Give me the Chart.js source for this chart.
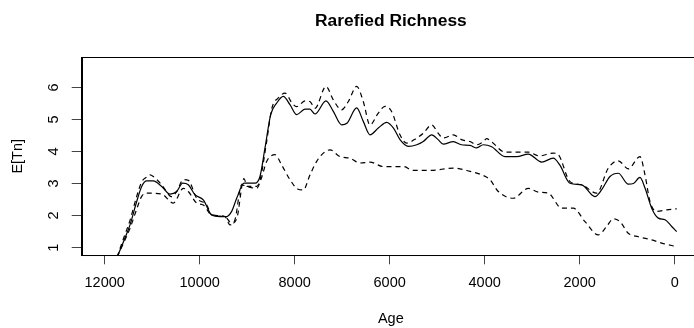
<!DOCTYPE html>
<html>
<head>
<meta charset="utf-8">
<script src="https://cdn.jsdelivr.net/npm/chart.js@4/dist/chart.umd.min.js"></script>
<style>
  html, body { margin: 0; padding: 0; background: #fff; overflow: hidden; }
  #wrap { width: 694px; height: 328px; overflow: hidden; }
</style>
</head>
<body>
<div id="wrap"><canvas id="rich" width="700" height="328"></canvas></div>
<script>
// ages (yr BP) and rarefied richness, oldest first
const meanAge = [11740, 11600, 11467, 11326, 11221, 11116, 10977, 10800, 10625, 10484, 10358, 10240, 10099, 9924, 9747, 9573, 9432, 9327, 9221, 9067, 8836, 8731, 8625, 8505, 8379, 8240, 8099, 7958, 7783, 7680, 7573, 7341, 7187, 7012, 6900, 6695, 6556, 6415, 6240, 6063, 5920, 5783, 5608, 5430, 5293, 5116, 4980, 4872, 4661, 4490, 4309, 4168, 4030, 3853, 3573, 3326, 3082, 2800, 2556, 2420, 2204, 1958, 1678, 1540, 1362, 1187, 977, 870, 731, 625, 484, 345, 204, 63, -42];
const meanRichness = [0.7, 1.2, 1.71, 2.44, 2.91, 3.08, 3.08, 2.91, 2.67, 2.75, 3.01, 2.96, 2.65, 2.49, 2.02, 1.97, 1.97, 2.13, 2.54, 3.01, 3.01, 3.22, 4.11, 5.15, 5.51, 5.72, 5.46, 5.15, 5.32, 5.32, 5.17, 5.58, 5.25, 4.83, 4.88, 5.36, 4.94, 4.52, 4.73, 4.91, 4.73, 4.37, 4.16, 4.21, 4.31, 4.52, 4.37, 4.23, 4.31, 4.21, 4.19, 4.11, 4.21, 4.15, 3.84, 3.84, 3.92, 3.67, 3.79, 3.58, 3.01, 2.96, 2.59, 2.8, 3.22, 3.32, 2.98, 3.0, 3.19, 2.86, 2.23, 1.92, 1.87, 1.66, 1.5];

const upperAge = [11740, 11600, 11467, 11326, 11221, 11116, 11046, 10977, 10800, 10590, 10484, 10345, 10240, 10063, 9850, 9747, 9470, 9327, 9220, 9067, 9000, 8800, 8720, 8590, 8480, 8345, 8204, 8050, 7958, 7783, 7680, 7573, 7341, 7187, 7012, 6870, 6695, 6556, 6415, 6240, 6099, 5960, 5783, 5643, 5430, 5293, 5116, 4980, 4872, 4661, 4490, 4309, 4168, 4030, 3960, 3853, 3573, 3326, 3082, 2850, 2556, 2450, 2204, 1958, 1642, 1398, 1187, 977, 731, 625, 520, 379, 168, -42];
const upperRichness = [0.7, 1.3, 1.85, 2.6, 3.05, 3.2, 3.27, 3.22, 2.96, 2.59, 2.75, 3.12, 3.1, 2.54, 2.33, 2.02, 1.97, 1.76, 1.9, 3.15, 2.91, 2.91, 3.17, 4.31, 5.35, 5.67, 5.82, 5.5, 5.4, 5.58, 5.56, 5.35, 6.03, 5.61, 5.3, 5.56, 6.03, 5.56, 4.83, 5.2, 5.41, 5.25, 4.52, 4.26, 4.42, 4.57, 4.83, 4.57, 4.42, 4.52, 4.37, 4.31, 4.21, 4.31, 4.4, 4.3, 3.98, 3.98, 3.98, 3.86, 3.95, 3.9, 3.06, 2.96, 2.7, 3.48, 3.71, 3.46, 3.84, 3.27, 2.44, 2.13, 2.18, 2.21];

const lowerAge = [11740, 11600, 11467, 11326, 11221, 11116, 10800, 10555, 10345, 10240, 10063, 9924, 9747, 9470, 9362, 9257, 9116, 9010, 8800, 8700, 8590, 8415, 8274, 8099, 7940, 7818, 7678, 7537, 7397, 7257, 7046, 6836, 6625, 6415, 6134, 5714, 5503, 5151, 4661, 4309, 4063, 3888, 3714, 3398, 3082, 2870, 2661, 2380, 2134, 1888, 1608, 1432, 1292, 1150, 977, 766, 484, 274, -42];
const lowerRichness = [0.7, 1.15, 1.6, 2.2, 2.6, 2.7, 2.67, 2.39, 2.85, 2.75, 2.39, 2.33, 2.02, 1.97, 1.71, 1.87, 2.96, 2.91, 2.85, 3.17, 3.69, 3.9, 3.58, 3.12, 2.83, 2.8, 3.27, 3.69, 3.95, 4.05, 3.84, 3.79, 3.64, 3.67, 3.53, 3.53, 3.41, 3.41, 3.48, 3.38, 3.27, 3.12, 2.75, 2.54, 2.85, 2.73, 2.7, 2.23, 2.23, 1.81, 1.4, 1.66, 1.9, 1.81, 1.45, 1.34, 1.24, 1.14, 1.03];

const xTicks = [12000, 10000, 8000, 6000, 4000, 2000, 0];
const yTicks = [1, 2, 3, 4, 5, 6];

const font = '"Liberation Sans", Arial, Helvetica, sans-serif';

function points(ages, vals) {
    return ages.map((a, i) => ({ x: a, y: vals[i] }));
}

function series(label, ages, vals, dash) {
    return {
        label: label,
        data: points(ages, vals),
        borderColor: "#000",
        borderWidth: 1.2,
        borderDash: dash,
        pointRadius: 0,
        fill: false,
        cubicInterpolationMode: "monotone",
    };
}

// R style box round the plot region
const boxPlugin = {
    id: "box",
    afterDraw(chart) {
        const { ctx, chartArea: a } = chart;
        ctx.save();
        ctx.strokeStyle = "#000";
        ctx.lineWidth = 1;
        ctx.strokeRect(Math.round(a.left) + 0.5, Math.round(a.top) + 0.5, a.right - a.left, a.bottom - a.top);
        ctx.restore();
    },
};

new Chart(document.querySelector("#rich"), {
    type: "line",
    data: {
        datasets: [
            series("upper", upperAge, upperRichness, [5, 4]),
            series("mean", meanAge, meanRichness, []),
            series("lower", lowerAge, lowerRichness, [5, 4]),
        ],
    },
    options: {
        responsive: false,
        devicePixelRatio: 1,
        animation: false,
        layout: { padding: 0 },
        plugins: {
            legend: { display: false },
            tooltip: { enabled: false },
            title: {
                display: true,
                text: "Rarefied Richness",
                fullSize: false,
                color: "#000",
                font: { family: font, size: 17.4, weight: "bold" },
                padding: { top: 10.3, bottom: 26.1 },
            },
        },
        scales: {
            x: {
                type: "linear",
                reverse: true,
                min: -533,
                max: 12484,
                afterBuildTicks: (s) => { s.ticks = xTicks.map((v) => ({ value: v })); },
                afterFit: (s) => { s.height = 72.7; },
                ticks: {
                    color: "#000",
                    font: { family: font, size: 14.5 },
                    padding: 10.3,
                    maxRotation: 0,
                    autoSkip: false,
                    callback: (v) => String(v),
                },
                grid: { drawOnChartArea: false, drawTicks: true, tickLength: 9, color: "#444" },
                border: { display: true, color: "#000" },
                title: {
                    display: true,
                    text: "Age",
                    color: "#000",
                    font: { family: font, size: 14.5 },
                    padding: { top: 0, bottom: 0 },
                },
            },
            y: {
                min: 0.76,
                max: 6.94,
                afterBuildTicks: (s) => { s.ticks = yTicks.map((v) => ({ value: v })); },
                afterFit: (s) => { s.width = 81.7; },
                ticks: {
                    color: "#000",
                    font: { family: font, size: 14.5 },
                    padding: 13.7,
                    minRotation: 90,
                    maxRotation: 90,
                    crossAlign: "center",
                    autoSkip: false,
                },
                grid: { drawOnChartArea: false, drawTicks: true, tickLength: 10, color: "#444" },
                border: { display: true, color: "#000" },
                title: {
                    display: true,
                    text: "E[Tn]",
                    color: "#000",
                    font: { family: font, size: 14.5 },
                    padding: { top: 9.6, bottom: 0 },
                },
            },
        },
    },
    plugins: [boxPlugin],
});
</script>
</body>
</html>
